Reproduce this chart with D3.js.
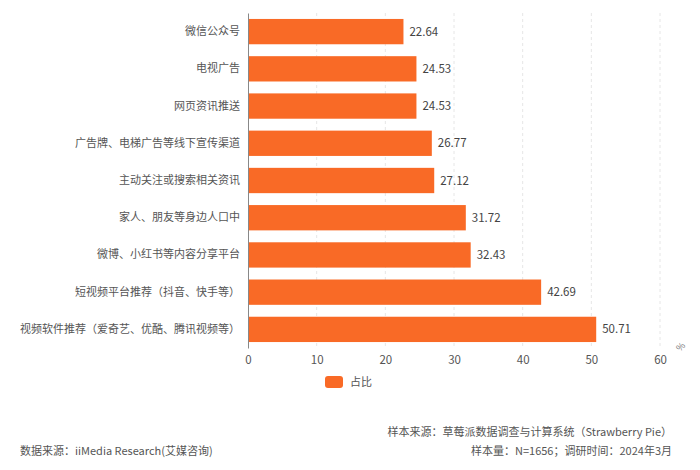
<!DOCTYPE html>
<html><head><meta charset="utf-8">
<script src="https://cdn.jsdelivr.net/npm/d3@7/dist/d3.min.js"></script>
<style>body{margin:0;background:#fff;font-family:"Noto Sans CJK SC","Noto Sans",sans-serif;}</style>
</head><body><svg id="c" width="700" height="470"></svg>
<script>
const categories = ["微信公众号","电视广告","网页资讯推送","广告牌、电梯广告等线下宣传渠道","主动关注或搜索相关资讯","家人、朋友等身边人口中","微博、小红书等内容分享平台","短视频平台推荐（抖音、快手等）","视频软件推荐（爱奇艺、优酷、腾讯视频等）"];
const values = [22.64,24.53,24.53,26.77,27.12,31.72,32.43,42.69,50.71];
const xTicks = [0,10,20,30,40,50,60];
const seriesName = "占比";

const svg = d3.select("#c");
const color = "#F96A26";
const x = d3.scaleLinear().domain([0,60]).range([248,660]);
const y = d3.scaleBand().domain(categories).range([13,348]).paddingInner(0.32).paddingOuter(0.16);

// grid
svg.append("g").selectAll("line").data(xTicks.slice(1)).join("line")
  .attr("x1",d=>x(d)).attr("x2",d=>x(d)).attr("y1",13).attr("y2",348)
  .attr("stroke","#e6e6e6").attr("stroke-dasharray","3,3");

// bars
svg.append("g").selectAll("rect").data(values).join("rect")
  .attr("x",x(0)).attr("y",(d,i)=>y(categories[i]))
  .attr("width",d=>x(d)-x(0)).attr("height",y.bandwidth())
  .attr("fill",color);

// value labels
svg.append("g").selectAll("text").data(values).join("text")
  .attr("x",d=>x(d)+6).attr("y",(d,i)=>y(categories[i])+y.bandwidth()/2)
  .attr("dy","0.35em").attr("font-size",11.5).attr("fill","#444")
  .text(d=>d.toFixed(2));

// y axis
const ya = svg.append("g").attr("transform",`translate(${x(0)},0)`).call(d3.axisLeft(y).tickSize(0).tickPadding(8));
ya.select(".domain").attr("stroke","#888");
ya.selectAll("text").attr("font-size",11).attr("fill","#555").attr("font-family","Noto Sans CJK SC");

// x axis
const xa = svg.append("g").attr("transform","translate(0,348)").call(d3.axisBottom(x).tickValues(xTicks).tickSize(0).tickPadding(8));
xa.select(".domain").remove();
xa.selectAll("text").attr("font-size",11.5).attr("fill","#555").attr("font-family","Noto Sans CJK SC");

svg.append("text").attr("transform","translate(680,352) rotate(-45)").attr("font-size",9).attr("fill","#777").text("%");

// legend
svg.append("rect").attr("x",325).attr("y",376).attr("width",18).attr("height",12).attr("rx",3).attr("fill",color);
svg.append("text").attr("x",350).attr("y",386).attr("font-size",11).attr("fill","#555").text(seriesName);

// footer
svg.append("text").attr("x",672).attr("y",436).attr("text-anchor","end").attr("font-size",11).attr("fill","#555").text("样本来源：草莓派数据调查与计算系统（Strawberry Pie）");
svg.append("text").attr("x",672).attr("y",455).attr("text-anchor","end").attr("font-size",11).attr("fill","#555").text("样本量：N=1656；调研时间：2024年3月");
svg.append("text").attr("x",20).attr("y",455).attr("font-size",11).attr("fill","#555").text("数据来源：iiMedia Research(艾媒咨询)");
</script></body></html>
